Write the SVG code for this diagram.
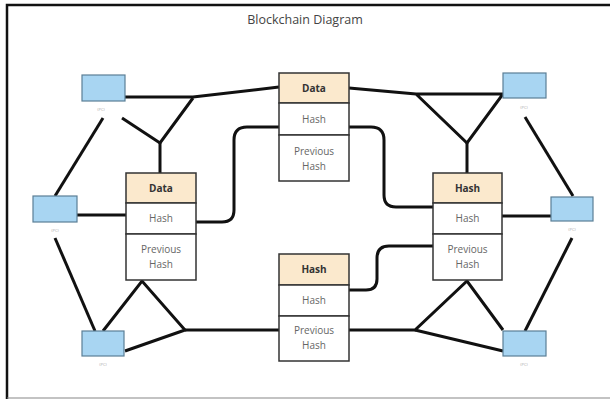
<svg xmlns="http://www.w3.org/2000/svg" width="610" height="400" viewBox="0 0 610 400">
<style>
.pc{fill:#a8d5f2;stroke:#5b7f96;stroke-width:1.2}
.pcl{font-family:"Open Sans","Liberation Sans",sans-serif;font-size:4px;fill:#aaa;text-anchor:middle}
.hd{fill:#fbe9cd;stroke:#333;stroke-width:1.5}
.cell{fill:#fff;stroke:#333;stroke-width:1.5}
.ht{font-family:"Open Sans","Liberation Sans",sans-serif;font-size:10px;font-weight:bold;fill:#333;text-anchor:middle}
.ct{font-family:"Open Sans","Liberation Sans",sans-serif;font-size:10px;fill:#666;text-anchor:middle}
.ln{fill:none;stroke:#111;stroke-width:3;stroke-linejoin:miter;stroke-linecap:butt}
</style>
<rect x="0" y="0" width="610" height="400" fill="#fff"/>
<path d="M7 399 V5 H610" fill="none" stroke="#111" stroke-width="2.5"/>
<line x1="7" y1="398" x2="610" y2="398" stroke="#888" stroke-width="1.2"/>
<text x="305" y="24" font-family="'Open Sans','Liberation Sans',sans-serif" font-size="12.5" fill="#444" text-anchor="middle">Blockchain Diagram</text>

<g id="connectors" class="ln">
<path d="M125 97 H193 L279 87"/>
<path d="M193 98 L160 143 L122 118"/>
<path d="M160 143 V173"/>
<path d="M103 118 L55 196"/>
<path d="M77 215 H126"/>
<path d="M55 238 L95 331"/>
<path d="M103 331 L142 281 L185 330 L125 351"/>
<path d="M185 330 H279"/>
<path d="M349 330 H415 L467 281 L503 330"/>
<path d="M415 330 L503 351"/>
<path d="M525 331 L572 238"/>
<path d="M502 216 H551"/>
<path d="M573 196 L525 117"/>
<path d="M349 88 L416 94 H503 L467 143 L416 94"/>
<path d="M467 143 V173"/>
<path d="M349 127 H371 Q384 127 384 140 V195 Q384 207 396 207 H433"/>
<path d="M196 222 H222 Q234 222 234 210 V140 Q234 127 247 127 H279"/>
<path d="M349 290 H366 Q377 290 377 279 V258 Q377 246 389 246 H433"/>
</g>

<g id="pc-top-left"><rect class="pc" x="82" y="75" width="43" height="26"/><text class="pcl" x="101" y="111">(PC)</text></g>
<g id="pc-top-right"><rect class="pc" x="503" y="73" width="43" height="25"/><text class="pcl" x="524" y="109">(PC)</text></g>
<g id="pc-mid-left"><rect class="pc" x="33" y="196" width="44" height="26"/><text class="pcl" x="55" y="232">(PC)</text></g>
<g id="pc-mid-right"><rect class="pc" x="551" y="197" width="42" height="24"/><text class="pcl" x="572" y="231">(PC)</text></g>
<g id="pc-bottom-left"><rect class="pc" x="82" y="331" width="42" height="25"/><text class="pcl" x="103" y="366">(PC)</text></g>
<g id="pc-bottom-right"><rect class="pc" x="503" y="331" width="43" height="25"/><text class="pcl" x="524" y="366">(PC)</text></g>

<g id="block-left">
<rect class="hd" x="126" y="173" width="70" height="30"/>
<rect class="cell" x="126" y="203" width="70" height="31"/>
<rect class="cell" x="126" y="234" width="70" height="46"/>
<text class="ht" x="161" y="192">Data</text>
<text class="ct" x="161" y="222">Hash</text>
<text class="ct" x="161" y="253">Previous</text>
<text class="ct" x="161" y="268">Hash</text>
</g>
<g id="block-top">
<rect class="hd" x="279" y="73" width="70" height="30"/>
<rect class="cell" x="279" y="103" width="70" height="32"/>
<rect class="cell" x="279" y="135" width="70" height="46"/>
<text class="ht" x="314" y="92">Data</text>
<text class="ct" x="314" y="123">Hash</text>
<text class="ct" x="314" y="155">Previous</text>
<text class="ct" x="314" y="170">Hash</text>
</g>
<g id="block-right">
<rect class="hd" x="433" y="173" width="69" height="30"/>
<rect class="cell" x="433" y="203" width="69" height="31"/>
<rect class="cell" x="433" y="234" width="69" height="46"/>
<text class="ht" x="467.5" y="192">Hash</text>
<text class="ct" x="467.5" y="222">Hash</text>
<text class="ct" x="467.5" y="253">Previous</text>
<text class="ct" x="467.5" y="268">Hash</text>
</g>
<g id="block-bottom">
<rect class="hd" x="279" y="254" width="70" height="31"/>
<rect class="cell" x="279" y="285" width="70" height="31"/>
<rect class="cell" x="279" y="316" width="70" height="45"/>
<text class="ht" x="314" y="273">Hash</text>
<text class="ct" x="314" y="304">Hash</text>
<text class="ct" x="314" y="334">Previous</text>
<text class="ct" x="314" y="349">Hash</text>
</g>
</svg>
